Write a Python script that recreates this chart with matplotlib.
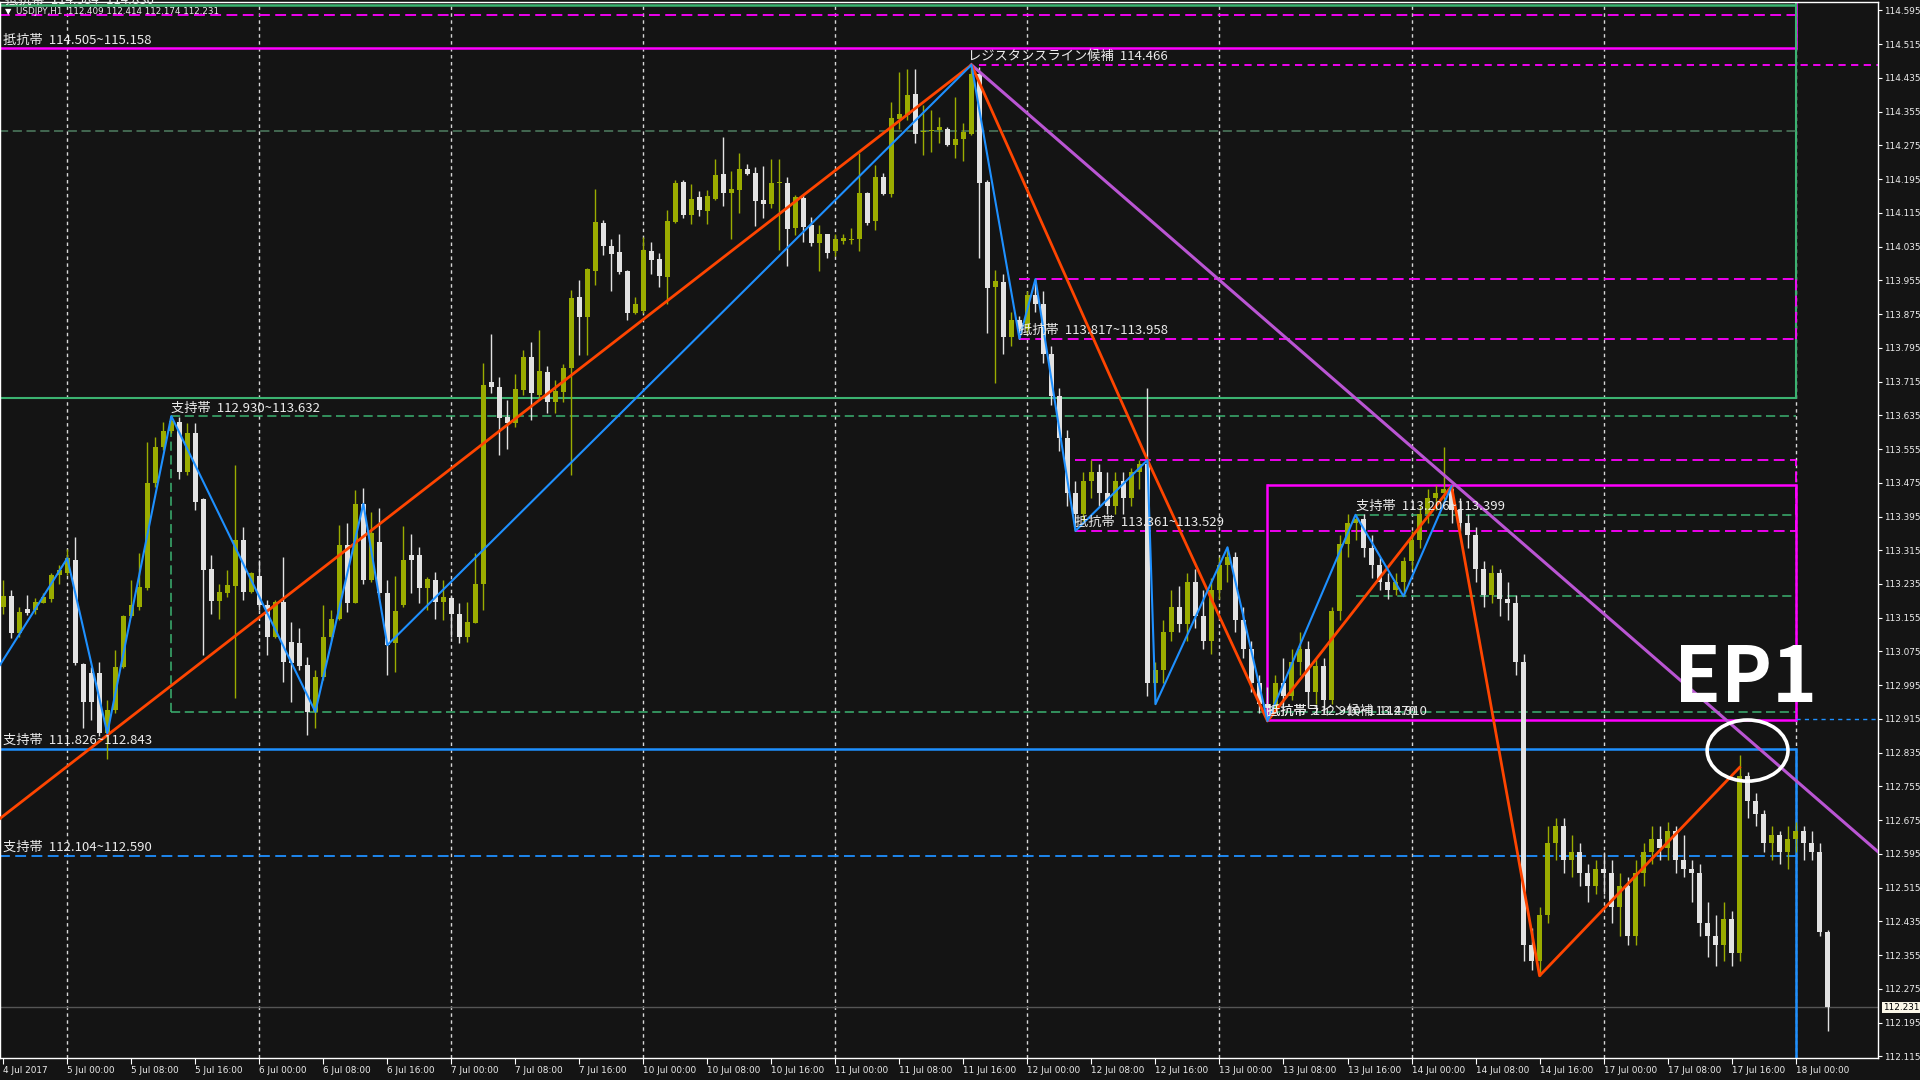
import matplotlib
matplotlib.use("Agg")
import matplotlib.pyplot as plt
from matplotlib.patches import Ellipse

plt.rcParams['font.family'] = ['Noto Sans CJK JP', 'DejaVu Sans']

# ---------------- data (USDJPY H1, bar index 0 = 4 Jul 16:00) ----------------
opens = [
 113.181,113.206,113.118,113.175,113.173,113.191,113.199,113.256,113.260,113.292,
 113.045,113.023,113.025,112.881,112.936,113.039,113.159,113.181,113.225,113.474,
 113.560,113.598,113.620,113.501,113.592,113.436,113.270,113.195,113.214,113.231,
 113.339,113.217,113.254,113.185,113.110,113.193,113.098,113.094,113.043,112.932,
 113.015,113.110,113.153,113.327,113.191,113.425,113.244,113.334,113.213,113.094,
 113.185,113.304,113.304,113.225,113.244,113.193,113.201,113.164,113.110,113.143,
 113.235,113.715,113.703,113.632,113.616,113.696,113.774,113.683,113.738,113.667,
 113.691,113.746,113.916,113.869,113.978,114.092,114.036,114.022,113.978,113.878,
 113.883,114.024,114.005,113.964,114.094,114.187,114.110,114.153,114.120,114.149,
 114.207,114.163,114.169,114.218,114.210,114.145,114.137,114.186,114.185,114.078,
 114.150,114.086,114.044,114.065,114.025,114.049,114.052,114.053,114.161,114.096,
 114.199,114.160,114.337,114.347,114.397,114.306,114.308,114.311,114.315,114.276,
 114.290,114.303,114.445,114.189,113.940,113.950,113.820,113.860,113.840,113.920,
 113.900,113.780,113.680,113.580,113.450,113.400,113.480,113.500,113.450,113.420,
 113.480,113.440,113.500,113.520,113.000,113.030,113.120,113.180,113.140,113.240,
 113.160,113.100,113.220,113.280,113.300,113.150,113.080,113.000,112.950,112.940,
 113.000,112.970,113.050,113.080,112.980,113.040,112.960,113.170,113.330,113.380,
 113.390,113.320,113.280,113.240,113.220,113.240,113.290,113.340,113.400,113.440,
 113.450,113.460,113.410,113.380,113.350,113.270,113.210,113.260,113.200,113.190,
 113.050,112.380,112.340,112.450,112.620,112.660,112.580,112.600,112.550,112.520,
 112.560,112.550,112.470,112.520,112.400,112.550,112.600,112.630,112.610,112.650,
 112.580,112.560,112.550,112.430,112.400,112.380,112.440,112.360,112.780,112.720,
 112.690,112.620,112.640,112.600,112.630,112.650,112.620,112.600,112.409]
highs = [
 113.244,113.221,113.181,113.209,113.201,113.213,113.260,113.280,113.319,113.346,
 113.047,113.039,113.051,112.960,113.078,113.161,113.244,113.308,113.572,113.584,
 113.620,113.632,113.630,113.617,113.616,113.438,113.304,113.236,113.268,113.517,
 113.371,113.264,113.292,113.197,113.197,113.300,113.146,113.130,113.063,113.031,
 113.185,113.173,113.375,113.379,113.458,113.462,113.406,113.414,113.244,113.254,
 113.372,113.353,113.323,113.252,113.264,113.244,113.209,113.189,113.193,113.308,
 113.760,113.828,113.725,113.671,113.733,113.790,113.808,113.837,113.752,113.719,
 113.757,113.932,113.956,113.985,114.171,114.098,114.052,114.065,113.979,113.916,
 114.058,114.046,114.019,114.122,114.194,114.193,114.183,114.167,114.169,114.243,
 114.294,114.214,114.256,114.232,114.224,114.226,114.242,114.242,114.201,114.157,
 114.159,114.106,114.086,114.066,114.066,114.066,114.080,114.256,114.165,114.228,
 114.209,114.378,114.450,114.455,114.455,114.371,114.359,114.343,114.318,114.390,
 114.327,114.466,114.460,114.193,113.979,113.970,113.880,113.870,113.930,113.958,
 113.930,113.800,113.700,113.600,113.480,113.500,113.530,113.520,113.500,113.500,
 113.500,113.510,113.529,113.700,113.050,113.150,113.220,113.230,113.260,113.270,
 113.220,113.250,113.300,113.322,113.310,113.180,113.100,113.020,112.990,113.020,
 113.060,113.080,113.120,113.100,113.060,113.060,113.180,113.350,113.400,113.399,
 113.400,113.350,113.300,113.260,113.260,113.300,113.360,113.420,113.460,113.470,
 113.560,113.470,113.440,113.400,113.370,113.290,113.280,113.270,113.240,113.210,
 113.070,112.420,112.470,112.660,112.680,112.680,112.640,112.620,112.570,112.580,
 112.600,112.580,112.550,112.540,112.580,112.620,112.660,112.660,112.670,112.660,
 112.640,112.580,112.570,112.480,112.450,112.480,112.460,112.830,112.790,112.740,
 112.700,112.660,112.650,112.660,112.670,112.660,112.650,112.620,112.414]
lows = [
 113.165,113.106,113.110,113.161,113.165,113.189,113.193,113.236,113.256,113.043,
 112.893,112.912,112.875,112.819,112.928,113.035,113.157,113.173,113.221,113.466,
 113.553,113.592,113.485,113.493,113.410,113.067,113.165,113.153,113.205,112.964,
 113.197,113.213,113.173,113.067,113.106,113.003,112.956,113.031,112.877,112.893,
 113.007,113.102,113.150,113.169,113.189,113.236,113.240,113.205,113.019,113.027,
 113.181,113.213,113.189,113.173,113.153,113.150,113.110,113.094,113.098,113.142,
 113.173,113.687,113.541,113.555,113.608,113.683,113.624,113.679,113.640,113.640,
 113.667,113.493,113.778,113.778,113.944,114.015,113.930,113.971,113.861,113.875,
 113.877,113.971,113.940,113.900,114.092,114.102,114.088,114.107,114.088,114.145,
 114.131,114.052,114.114,114.205,114.084,114.102,114.126,114.027,113.989,114.062,
 114.046,114.036,113.978,114.007,114.013,114.041,114.041,114.025,114.086,114.074,
 114.157,114.152,114.315,114.335,114.281,114.252,114.260,114.280,114.273,114.244,
 114.239,114.299,114.007,113.829,113.711,113.780,113.800,113.817,113.830,113.880,
 113.760,113.660,113.550,113.420,113.361,113.380,113.440,113.420,113.400,113.400,
 113.400,113.420,113.460,112.970,112.950,113.000,113.100,113.120,113.100,113.130,
 113.080,113.070,113.200,113.240,113.120,113.060,112.980,112.930,112.910,112.930,
 112.950,112.960,113.020,112.940,112.950,112.930,112.950,113.150,113.300,113.340,
 113.300,113.250,113.220,113.200,113.210,113.206,113.270,113.320,113.380,113.410,
 113.430,113.380,113.360,113.320,113.240,113.180,113.190,113.160,113.150,113.020,
 112.340,112.320,112.306,112.430,112.580,112.550,112.540,112.520,112.480,112.500,
 112.500,112.430,112.400,112.380,112.380,112.520,112.570,112.580,112.580,112.550,
 112.540,112.480,112.400,112.350,112.330,112.340,112.330,112.340,112.680,112.660,
 112.600,112.580,112.570,112.560,112.600,112.580,112.580,112.400,112.174]
closes = [
 113.206,113.118,113.169,113.167,113.193,113.205,113.256,113.268,113.296,113.047,
 112.956,112.956,112.881,112.936,113.039,113.159,113.185,113.229,113.474,113.560,
 113.598,113.622,113.501,113.592,113.430,113.268,113.195,113.216,113.232,113.339,
 113.217,113.260,113.185,113.110,113.193,113.051,113.047,113.040,112.932,113.015,
 113.110,113.153,113.327,113.191,113.425,113.244,113.355,113.213,113.090,113.171,
 113.293,113.292,113.225,113.246,113.193,113.203,113.165,113.110,113.146,113.235,
 113.707,113.703,113.629,113.616,113.697,113.774,113.687,113.740,113.666,113.693,
 113.748,113.914,113.869,113.982,114.093,114.037,114.017,113.975,113.878,113.900,
 114.027,114.003,113.965,114.096,114.185,114.110,114.149,114.122,114.155,114.205,
 114.161,114.171,114.218,114.207,114.144,114.136,114.185,114.189,114.077,114.153,
 114.082,114.043,114.065,114.019,114.052,114.055,114.054,114.161,114.090,114.199,
 114.160,114.341,114.349,114.394,114.302,114.310,114.311,114.318,114.276,114.290,
 114.307,114.445,114.186,113.936,113.954,113.820,113.860,113.840,113.920,113.900,
 113.780,113.680,113.580,113.450,113.400,113.480,113.500,113.450,113.420,113.480,
 113.440,113.500,113.520,113.000,113.030,113.120,113.180,113.140,113.240,113.160,
 113.100,113.220,113.280,113.300,113.150,113.080,113.000,112.950,112.940,113.000,
 112.970,113.050,113.080,112.980,113.040,112.960,113.170,113.330,113.380,113.390,
 113.320,113.280,113.240,113.220,113.240,113.290,113.340,113.400,113.440,113.450,
 113.460,113.410,113.380,113.350,113.270,113.210,113.260,113.200,113.190,113.050,
 112.380,112.340,112.450,112.620,112.660,112.580,112.600,112.550,112.520,112.560,
 112.550,112.470,112.520,112.400,112.550,112.600,112.630,112.610,112.650,112.580,
 112.560,112.550,112.430,112.400,112.380,112.440,112.360,112.780,112.720,112.690,
 112.620,112.640,112.600,112.630,112.650,112.620,112.600,112.410,112.231]

x_tick_bars = [0, 8, 16, 24, 32, 40, 48, 56, 64, 72, 80, 88, 96, 104, 112, 120,
               128, 136, 144, 152, 160, 168, 176, 184, 192, 200, 208, 216, 224]
x_tick_labels = ["4 Jul 2017", "5 Jul 00:00", "5 Jul 08:00", "5 Jul 16:00",
                 "6 Jul 00:00", "6 Jul 08:00", "6 Jul 16:00", "7 Jul 00:00",
                 "7 Jul 08:00", "7 Jul 16:00", "10 Jul 00:00", "10 Jul 08:00",
                 "10 Jul 16:00", "11 Jul 00:00", "11 Jul 08:00", "11 Jul 16:00",
                 "12 Jul 00:00", "12 Jul 08:00", "12 Jul 16:00", "13 Jul 00:00",
                 "13 Jul 08:00", "13 Jul 16:00", "14 Jul 00:00", "14 Jul 08:00",
                 "14 Jul 16:00", "17 Jul 00:00", "17 Jul 08:00", "17 Jul 16:00",
                 "18 Jul 00:00"]
day_separator_bars = [8, 32, 56, 80, 104, 128, 152, 176, 200, 224]
y_ticks = [114.595, 114.515, 114.435, 114.355, 114.275, 114.195, 114.115, 114.035,
           113.955, 113.875, 113.795, 113.715, 113.635, 113.555, 113.475, 113.395,
           113.315, 113.235, 113.155, 113.075, 112.995, 112.915, 112.835, 112.755,
           112.675, 112.595, 112.515, 112.435, 112.355, 112.275, 112.195, 112.115]

# zigzag / trend lines (bar index, price)
orange_bars = [-0.41, 121, 143, 158, 181, 192, 217]
orange_prices = [112.679, 114.466, 113.529, 112.910, 113.467, 112.306, 112.800]
blue_bars = [-0.41, 8, 13, 21, 39, 45, 48, 121, 127, 129, 134, 143, 144, 153, 158, 169, 175, 181]
blue_prices = [113.043, 113.296, 112.881, 113.633, 112.932, 113.425, 113.090, 114.466,
               113.817, 113.958, 113.361, 113.529, 112.950, 113.322, 112.910, 113.399,
               113.206, 113.467]
trend_bars = [121, 234.3]
trend_prices = [114.466, 112.600]

last_price = 112.231
header = "USDJPY,H1  112.409 112.414 112.174 112.231"

# ---------------- figure ----------------
BG = '#141414'
BULL = '#9aac00'
BEAR = '#e2e2e2'
MAG = '#ff00ff'
GRN = '#3cb371'
BLU = '#1e90ff'
ORG = '#ff4500'
VIO = '#ba55d3'
TXT = '#ececec'

fig = plt.figure(figsize=(19.2, 10.8), dpi=100, facecolor=BG)
ax = fig.add_axes([0.0, 22 / 1080, 1878 / 1920, 1056 / 1080])
ax.set_facecolor(BG)
XMIN, XMAX = -0.41, 234.3
ax.set_xlim(XMIN, XMAX)
ax.set_ylim(112.111, 114.615)

# day separators
for b in day_separator_bars:
    ax.axvline(b, color='#d8d8d8', lw=1.0, ls=(0, (2.5, 2.5)), zorder=1)

def hline(y, x0, x1, color, ls='-', lw=1.5, z=2):
    ax.plot([x0, x1], [y, y], color=color, ls=ls, lw=lw, zorder=z, solid_capstyle='butt')

def vline(x, y0, y1, color, ls='-', lw=1.5, z=2):
    ax.plot([x, x], [y0, y1], color=color, ls=ls, lw=lw, zorder=z)

def label(x, y, s, size=9.5):
    ax.text(x, y + 0.004, s, color=TXT, fontsize=size, ha='left', va='bottom', zorder=8)

DASH = (0, (6, 3))
L = -5
R = 224
TOP = 115.3

# resistance 114.505-115.158 (solid magenta)
hline(114.505, L, R, MAG, lw=1.8)
vline(R, 114.505, TOP, MAG, lw=1.8)
label(0.0, 114.505, "抵抗帯  114.505~115.158")
# resistance 114.584-114.830 (dashed magenta)
hline(114.584, L, R, MAG, ls=DASH, lw=1.3)
# green zone
hline(114.608, L, R, GRN, lw=1.8)
hline(113.676, L, R, GRN, lw=1.5)
vline(R, 113.676, TOP, GRN, lw=1.5)
# resistance line candidate
hline(114.466, 122, XMAX + 5, MAG, ls=(0, (4, 3)), lw=1.3)
label(120.6, 114.466, "レジスタンスライン候補  114.466")
# gray dashed
hline(114.309, L, R, '#4f7f62', ls=DASH, lw=1.1)
# 113.817-113.958
hline(113.958, 127, R, MAG, ls=DASH, lw=1.3)
hline(113.817, 127, R, MAG, ls=DASH, lw=1.3)
vline(R, 113.817, 113.958, MAG, ls=DASH, lw=1.3)
label(127.0, 113.817, "抵抗帯  113.817~113.958")
# support 112.930-113.632 (dashed green)
hline(113.633, 21, R, GRN, ls=DASH, lw=1.1)
hline(112.931, 21, R, GRN, ls=DASH, lw=1.1)
vline(21, 112.931, 113.633, GRN, ls=DASH, lw=1.1)
label(21.0, 113.633, "支持帯  112.930~113.632")
# 113.361-113.529
hline(113.529, 134, R, MAG, ls=DASH, lw=1.3)
hline(113.361, 134, R, MAG, ls=DASH, lw=1.3)
vline(R, 113.361, 113.529, MAG, ls=DASH, lw=1.3)
label(134.0, 113.361, "抵抗帯  113.361~113.529")
# solid magenta box 112.910-113.470
hline(113.470, 158, R, MAG, lw=1.8)
hline(112.913, 158, R, MAG, lw=1.8)
vline(158, 112.913, 113.470, MAG, lw=1.8)
vline(R, 112.913, 113.470, MAG, lw=1.8)
label(158.0, 112.913, "抵抗帯ライン候補  112.910")
label(158.0, 112.913, "抵抗帯  112.910~113.470")
# support 113.206-113.399
hline(113.399, 169, R, GRN, ls=DASH, lw=1.1)
hline(113.206, 169, R, GRN, ls=DASH, lw=1.1)
label(169.0, 113.399, "支持帯  113.206~113.399")
# support 111.826-112.843 (blue)
hline(112.844, L, R, BLU, lw=1.8)
vline(R, 111.0, 112.844, BLU, lw=1.8)
label(0.0, 112.844, "支持帯  111.826~112.843")
# support 112.104-112.590 (blue dashed)
hline(112.590, L, R, BLU, ls=DASH, lw=1.3)
label(0.0, 112.590, "支持帯  112.104~112.590")
# small blue dashed at 112.915 on the right
hline(112.915, R, XMAX + 5, BLU, ls=(0, (3, 3)), lw=1.0)
# current price line
hline(last_price, L, XMAX + 5, '#555555', lw=1.0, z=1)

# ---------------- candles ----------------
for i, (o, h, l, c) in enumerate(zip(opens, highs, lows, closes)):
    col = BULL if c >= o else BEAR
    ax.plot([i, i], [l, h], color=col, lw=1.0, zorder=4, solid_capstyle='butt')
    bot = min(o, c)
    hgt = max(abs(c - o), 0.0025)
    ax.bar(i, hgt, bottom=bot - (0.00125 if abs(c - o) < 0.0025 else 0), width=0.62,
           color=col, edgecolor=col, linewidth=0, zorder=5)

# ---------------- lines ----------------
ax.plot(trend_bars, trend_prices, color=VIO, lw=2.2, zorder=6)
ax.plot(orange_bars, orange_prices, color=ORG, lw=2.0, zorder=7)
ax.plot(blue_bars, blue_prices, color=BLU, lw=1.5, zorder=7)

# EP1 annotation
ep_bar = 217
ax.add_patch(Ellipse((ep_bar + 1.0, highs[ep_bar] + 0.01), width=10.1, height=0.145,
                     fill=False, edgecolor='white', lw=2.6, zorder=9))
ax.text(ep_bar + 0.7, highs[ep_bar] + 0.178, "EP1", color='white', fontsize=55,
        fontweight='bold', family=['Liberation Sans Narrow', 'Noto Sans CJK JP', 'DejaVu Sans'],
        ha='center', va='center', zorder=9)

# ---------------- axes styling ----------------
for s in ax.spines.values():
    s.set_color('white')
    s.set_linewidth(1.0)
ax.yaxis.tick_right()
ax.set_yticks(y_ticks)
ax.set_yticklabels([f"{v:.3f}" for v in y_ticks], family=['DejaVu Sans'])
ax.tick_params(axis='y', colors='white', labelcolor=TXT, labelsize=6.4, length=3,
               direction='out', pad=1.5)
ax.set_xticks(x_tick_bars)
ax.set_xticklabels(x_tick_labels, family=['DejaVu Sans'], ha='left')
ax.tick_params(axis='x', colors='white', labelcolor=TXT, labelsize=6.4, length=4,
               direction='out', pad=1.5)

# current price tag
ax.text(1.0025, last_price, f"{last_price:.3f}", transform=ax.get_yaxis_transform(),
        fontsize=6.4, color='black', va='center', ha='left', family=['DejaVu Sans'],
        bbox=dict(boxstyle='square,pad=0.12', fc='#fbf7e8', ec='none'), zorder=10,
        clip_on=False)

# header
fig.text(0.0025, 0.9935, "抵抗帯  114.584~114.830", color=TXT, fontsize=9.5, va='bottom', ha='left')
fig.text(0.0025, 0.9935, "▼", color='white', fontsize=6, va='top', ha='left', family=['DejaVu Sans'])
fig.text(0.0085, 0.9935, header, color=TXT, fontsize=6.3, va='top', ha='left', family=['DejaVu Sans'])

fig.savefig("out.png", dpi=100, facecolor=BG)
